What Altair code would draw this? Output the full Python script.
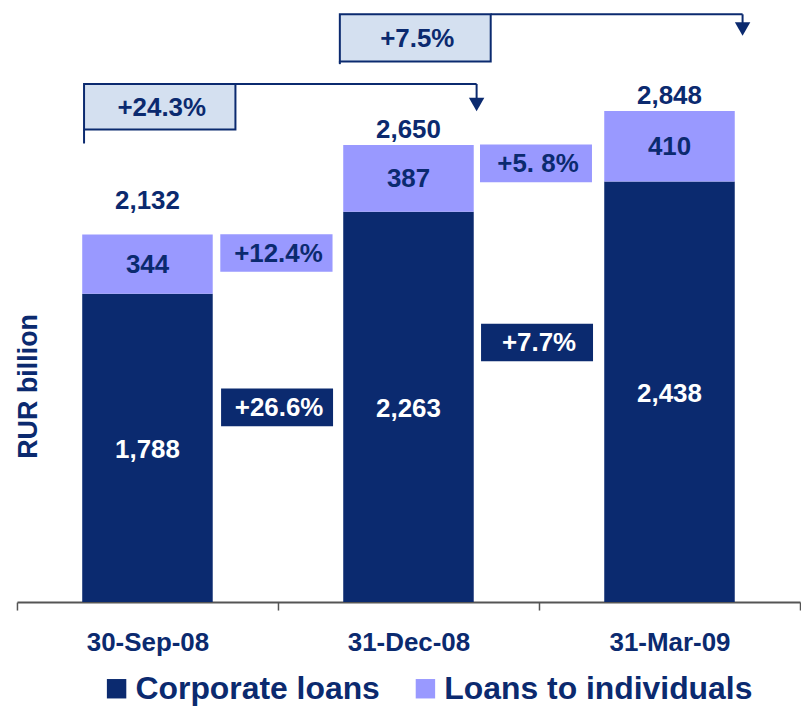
import altair as alt
import pandas as pd

# ---------------- data ----------------
dates = ["30-Sep-08", "31-Dec-08", "31-Mar-09"]
series = ["Corporate loans", "Loans to individuals"]
corporate = [1788, 2263, 2438]
individuals = [344, 387, 410]
totals = [2132, 2650, 2848]

corp_growth = ["+26.6%", "+7.7%"]
ind_growth = ["+12.4%", "+5. 8%"]
total_growth = ["+24.3%", "+7.5%"]

# ---------------- styles / layout ----------------
NAVY = "#0b2a6f"
PURPLE = "#9999ff"
PALE = "#d4e0f0"
FONT = "Liberation Sans"
W, H = 786, 595
Y_MAX = 3437
FS = 26

# annotation boxes (x in category-step units, y in RUR billion)
box_text = [total_growth[0], total_growth[1], ind_growth[0], corp_growth[0], ind_growth[1], corp_growth[1]]
box_kind = ["total", "total", "ind", "corp", "ind", "corp"]
box_x0 = [0.257, 1.237, 0.779, 0.782, 1.774, 1.778]
box_x1 = [0.837, 1.815, 1.209, 1.211, 2.203, 2.207]
box_y0 = [2740, 3135, 1916, 1020, 2434, 1396]
box_y1 = [3004, 3408, 2133, 1238, 2653, 1614]

conn_x0 = [0.837, 1.761, 0.257, 1.815, 2.780, 1.237]
conn_x1 = [1.761, 1.761, 0.257, 2.780, 2.780, 1.237]
conn_y0 = [3004, 3004, 2740, 3408, 3408, 3135]
conn_y1 = [3004, 2911, 2659, 3408, 3349, 3119]

arrow_x = [1.761, 2.780]
arrow_y = [2885, 3323]

# ---------------- tables ----------------
rows = []
for i, d in enumerate(dates):
    rows.append(dict(date=d, series=series[0], value=corporate[i], order=0,
                     mid=corporate[i] / 2))
    rows.append(dict(date=d, series=series[1], value=individuals[i], order=1,
                     mid=corporate[i] + individuals[i] / 2))
bars_df = pd.DataFrame(rows)
tot_df = pd.DataFrame(dict(date=dates, total=totals))
box_df = pd.DataFrame(dict(text=box_text, kind=box_kind, x0=box_x0, x1=box_x1,
                           y0=box_y0, y1=box_y1))
conn_df = pd.DataFrame(dict(x0=conn_x0, x1=conn_x1, y0=conn_y0, y1=conn_y1))
arrow_df = pd.DataFrame(dict(x=arrow_x, y=arrow_y))

# ---------------- encodings ----------------
band_scale = alt.Scale(domain=dates, paddingInner=0, paddingOuter=0)
x_band = alt.X(
    "date:N", sort=dates, title=None, scale=band_scale,
    axis=alt.Axis(labelAngle=0, tickBand="extent", domainColor="#555555", domainWidth=2,
                  tickColor="#555555", tickWidth=1.5, tickSize=8, labelFont=FONT,
                  labelFontSize=26, labelFontWeight="bold", labelColor=NAVY,
                  labelPadding=20, grid=False),
)
x_plain = alt.X("date:N", sort=dates, scale=band_scale)
y_scale = alt.Scale(domain=[0, Y_MAX], nice=False, zero=True)
y_axis = alt.Axis(domain=False, ticks=False, labels=False, grid=False,
                  title="RUR billion", titleX=20, titleY=378, titleAngle=270,
                  titleBaseline="alphabetic", titleAlign="center", titleFont=FONT,
                  titleFontSize=27, titleFontWeight="bold", titleColor=NAVY)

xq = alt.Scale(domain=[0, 3], nice=False, zero=False)

bars = alt.Chart(bars_df).mark_bar(width=alt.RelativeBandSize(0.5)).encode(
    x=x_band,
    y=alt.Y("value:Q", stack="zero", scale=y_scale, axis=y_axis, title="RUR billion"),
    color=alt.Color(
        "series:N", scale=alt.Scale(domain=series, range=[NAVY, PURPLE]),
        legend=alt.Legend(title=None, orient="none", legendX=84, legendY=666,
                          direction="horizontal", symbolType="square", symbolSize=380,
                          symbolStrokeWidth=0, labelFont=FONT, labelFontSize=32,
                          labelFontWeight="bold", labelColor=NAVY, labelOffset=3,
                          labelLimit=0, columnPadding=29, padding=0),
    ),
    order=alt.Order("order:Q", sort="ascending"),
)

seg_corp = alt.Chart(bars_df).transform_filter("datum.order == 0").mark_text(
    font=FONT, fontSize=FS, fontWeight="bold", color="white", baseline="middle", dy=2
).encode(x=x_plain, y=alt.Y("mid:Q", scale=y_scale, title="RUR billion"),
         text=alt.Text("value:Q", format=","))

seg_ind = alt.Chart(bars_df).transform_filter("datum.order == 1").mark_text(
    font=FONT, fontSize=FS, fontWeight="bold", color=NAVY, baseline="middle", dy=1
).encode(x=x_plain, y=alt.Y("mid:Q", scale=y_scale, title="RUR billion"),
         text=alt.Text("value:Q", format=","))

tot_first = alt.Chart(tot_df).transform_filter(alt.datum.date == dates[0]).mark_text(
    font=FONT, fontSize=FS, fontWeight="bold", color=NAVY, baseline="alphabetic", dy=-25
).encode(x=x_plain, y=alt.Y("total:Q", scale=y_scale, title="RUR billion"),
         text=alt.Text("total:Q", format=","))

tot_rest = alt.Chart(tot_df).transform_filter(alt.datum.date != dates[0]).mark_text(
    font=FONT, fontSize=FS, fontWeight="bold", color=NAVY, baseline="alphabetic", dy=-7
).encode(x=x_plain, y=alt.Y("total:Q", scale=y_scale, title="RUR billion"),
         text=alt.Text("total:Q", format=","))


def box_layer(kind, fill, stroke):
    props = dict(fill=fill)
    if stroke:
        props.update(stroke=NAVY, strokeWidth=2)
    else:
        props.update(strokeWidth=0)
    return alt.Chart(box_df).transform_filter(alt.datum.kind == kind).mark_rect(**props).encode(
        x=alt.X("x0:Q", scale=xq, axis=None), x2="x1:Q",
        y=alt.Y("y0:Q", scale=y_scale, title="RUR billion"), y2="y1:Q",
    )


def box_text_layer(kinds, color):
    return alt.Chart(box_df).transform_filter(
        alt.FieldOneOfPredicate(field="kind", oneOf=kinds)
    ).transform_calculate(
        cx="(datum.x0 + datum.x1) / 2", cy="(datum.y0 + datum.y1) / 2"
    ).mark_text(font=FONT, fontSize=FS, fontWeight="bold", color=color,
                baseline="middle", dy=1, dx=2).encode(
        x=alt.X("cx:Q", scale=xq, axis=None),
        y=alt.Y("cy:Q", scale=y_scale, title="RUR billion"),
        text="text:N",
    )


conn = alt.Chart(conn_df).mark_rule(color=NAVY, strokeWidth=2).encode(
    x=alt.X("x0:Q", scale=xq, axis=None), x2="x1:Q",
    y=alt.Y("y0:Q", scale=y_scale, title="RUR billion"), y2="y1:Q",
)

arrows = alt.Chart(arrow_df).mark_point(
    shape="triangle-down", filled=True, size=240, color=NAVY, opacity=1, strokeWidth=0
).encode(
    x=alt.X("x:Q", scale=xq, axis=None),
    y=alt.Y("y:Q", scale=y_scale, title="RUR billion"),
)

main = alt.layer(bars, seg_corp, seg_ind, tot_first, tot_rest)
annot = alt.layer(
    conn,
    box_layer("total", PALE, True),
    box_layer("ind", PURPLE, False),
    box_layer("corp", NAVY, False),
    box_text_layer(["total", "ind"], NAVY),
    box_text_layer(["corp"], "white"),
    arrows,
)

chart = alt.layer(main, annot).resolve_scale(x="independent").properties(
    width=W, height=H,
    padding={"left": 7, "top": 0, "right": 0, "bottom": 0},
    background="white",
).configure_view(stroke=None)

chart.save("out.html", embed_options={"renderer": "svg", "actions": False})
